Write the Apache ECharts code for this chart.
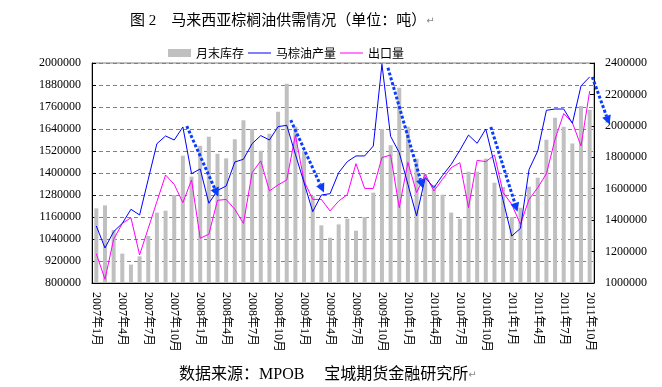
<!DOCTYPE html>
<html><head><meta charset="utf-8">
<script src="https://cdn.jsdelivr.net/npm/echarts@6/dist/echarts.min.js"></script>
<style>html,body{margin:0;padding:0;background:#fff}#c{width:662px;height:387px}</style>
</head><body><div id="c"></div>
<script>
const categories = [
 '2007年1月','2007年2月','2007年3月','2007年4月','2007年5月','2007年6月','2007年7月','2007年8月','2007年9月','2007年10月','2007年11月','2007年12月',
 '2008年1月','2008年2月','2008年3月','2008年4月','2008年5月','2008年6月','2008年7月','2008年8月','2008年9月','2008年10月','2008年11月','2008年12月',
 '2009年1月','2009年2月','2009年3月','2009年4月','2009年5月','2009年6月','2009年7月','2009年8月','2009年9月','2009年10月','2009年11月','2009年12月',
 '2010年1月','2010年2月','2010年3月','2010年4月','2010年5月','2010年6月','2010年7月','2010年8月','2010年9月','2010年10月','2010年11月','2010年12月',
 '2011年1月','2011年2月','2011年3月','2011年4月','2011年5月','2011年6月','2011年7月','2011年8月','2011年9月','2011年10月'
];
// 月末库存 (right axis)
const inventory = [
 1475000,1494000,1337000,1187000,1117000,1170000,1299000,1448000,1460000,1560000,1810000,1677000,
 1874000,1931000,1823000,1793000,1914000,2035000,1980000,1842000,1950000,2090000,2268000,1995000,
 1840000,1555000,1367000,1288000,1373000,1409000,1333000,1420000,1575000,1980000,1876000,2243000,
 1995000,1791000,1694000,1624000,1562000,1448000,1409000,1708000,1708000,1791000,1638000,1611000,
 1420000,1479000,1613000,1670000,1912000,2052000,1995000,1887000,2126000,2103000
];
// 马棕油产量 (left axis)
const production = [
 1111000,991000,1080000,1125000,1202000,1171000,1366000,1560000,1602000,1580000,1651000,1396000,
 1422000,1235000,1305000,1329000,1460000,1475000,1560000,1604000,1580000,1653000,1660000,1502000,
 1347000,1189000,1280000,1287000,1402000,1462000,1493000,1493000,1547000,1993000,1600000,1511000,
 1338000,1166000,1375000,1320000,1387000,1447000,1524000,1607000,1562000,1640000,1446000,1251000,
 1056000,1098000,1420000,1520000,1742000,1749000,1749000,1671000,1875000,1924000
];
// 出口量 (left axis)
const exportsVol = [
 960000,820000,1038000,1125000,1156000,953000,1098000,1244000,1389000,1338000,1238000,1362000,
 1044000,1066000,1251000,1256000,1202000,1125000,1402000,1466000,1302000,1335000,1362000,1607000,
 1356000,1256000,1256000,1193000,1247000,1282000,1451000,1316000,1315000,1484000,1498000,1211000,
 1458000,1293000,1393000,1302000,1366000,1429000,1456000,1211000,1469000,1462000,1498000,1293000,
 1229000,1120000,1256000,1320000,1396000,1584000,1724000,1675000,1547000,1847000
];
const leftAxisRange = [800000, 2000000, 120000];
const rightAxisRange = [1000000, 2400000, 200000];
// trend arrows: [fromCategoryIndex, fromLeftValue, toCategoryIndex, toLeftValue]
const arrows = [
 [10.45, 1656000, 14.1, 1271000],
 [22.46, 1689000, 26.3, 1293000],
 [33.69, 1974000, 37.74, 1316000],
 [45.58, 1651000, 48.66, 1189000],
 [57.3, 1924000, 59.3, 1664000]
];

const FONT = '"Liberation Serif","Noto Sans CJK SC",serif';
const LINE_ICON = 'path://M0,0 L46,0 L46,2 L0,2 Z';
const chart = echarts.init(document.getElementById('c'), null, {renderer:'canvas'});
chart.setOption({
  animation: false,
  backgroundColor: '#fff',
  title: [
    {text: '图 2　马来西亚棕榈油供需情况（单位：吨）{r|↵}', left: 125, top: 9,
     textStyle: {fontFamily: FONT, fontSize: 15, fontWeight: 'normal', color: '#000',
       rich: {r: {fontSize: 10, color: '#888', fontFamily: 'DejaVu Sans'}}}},
    {text: '数据来源：MPOB　 宝城期货金融研究所{r|↵}', left: 174, top: 362,
     textStyle: {fontFamily: FONT, fontSize: 16, fontWeight: 'normal', color: '#000',
       rich: {r: {fontSize: 10, color: '#888', fontFamily: 'DejaVu Sans'}}}}
  ],
  legend: {
    left: 163, top: 42, itemWidth: 23, itemHeight: 8, itemGap: 4,
    textStyle: {fontFamily: '"Noto Sans CJK SC"', fontSize: 12, color: '#000'},
    data: [
      {name: '月末库存', icon: 'rect'},
      {name: '马棕油产量', icon: LINE_ICON},
      {name: '出口量', icon: LINE_ICON}
    ]
  },
  grid: {left: 92, right: 68, top: 63, bottom: 104, show: true, borderColor: '#808080', borderWidth: 1},
  xAxis: {
    type: 'category', data: categories, boundaryGap: true,
    axisLine: {lineStyle: {color: '#000', width: 1}},
    axisTick: {inside: true, length: 4, interval: 2, lineStyle: {color: '#000'}},
    axisLabel: {interval: 2, rotate: -90, margin: 9, fontFamily: FONT, fontSize: 12, color: '#000'}
  },
  yAxis: [
    {type: 'value', min: leftAxisRange[0], max: leftAxisRange[1], interval: leftAxisRange[2],
     axisLine: {show: true, lineStyle: {color: '#000'}},
     axisTick: {show: true, inside: true, length: 4, lineStyle: {color: '#000'}},
     axisLabel: {margin: 11, fontFamily: FONT, fontSize: 12, color: '#000', formatter: v => String(v)},
     splitLine: {show: true, lineStyle: {color: '#808080', type: [4, 3], width: 1}}},
    {type: 'value', min: rightAxisRange[0], max: rightAxisRange[1], interval: rightAxisRange[2], position: 'right',
     axisLine: {show: true, lineStyle: {color: '#000'}},
     axisTick: {show: true, inside: true, length: 4, lineStyle: {color: '#000'}},
     axisLabel: {margin: 11, fontFamily: FONT, fontSize: 12, color: '#000', formatter: v => String(v)},
     splitLine: {show: false}}
  ],
  series: [
    {name: '月末库存', type: 'bar', yAxisIndex: 1, data: inventory, barWidth: 4,
     itemStyle: {color: '#C0C0C0'}, z: 1},
    {name: '马棕油产量', type: 'line', yAxisIndex: 0, data: production, symbol: 'none',
     lineStyle: {color: '#0000FF', width: 1}, itemStyle: {color: '#0000FF'}, z: 3},
    {name: '出口量', type: 'line', yAxisIndex: 0, data: exportsVol, symbol: 'none',
     lineStyle: {color: '#FF00FF', width: 1}, itemStyle: {color: '#FF00FF'}, z: 2}
  ]
});

function drawArrows() {
  const p0 = chart.convertToPixel({xAxisIndex: 0}, categories[0]);
  const p1 = chart.convertToPixel({xAxisIndex: 0}, categories[1]);
  const step = p1 - p0;
  const els = [];
  arrows.forEach(a => {
    const x1 = p0 + step * a[0], y1 = chart.convertToPixel({yAxisIndex: 0}, a[1]);
    const x2 = p0 + step * a[2], y2 = chart.convertToPixel({yAxisIndex: 0}, a[3]);
    const dx = x2 - x1, dy = y2 - y1, len = Math.hypot(dx, dy);
    const ux = dx / len, uy = dy / len;
    const head = 9, hw = 4.5;
    const bx = x2 - ux * head, by = y2 - uy * head;
    els.push({type: 'line', z: 100, shape: {x1: x1, y1: y1, x2: bx, y2: by},
      style: {stroke: '#0a3cff', lineWidth: 3, lineDash: [3, 2]}});
    els.push({type: 'polygon', z: 100,
      shape: {points: [[x2, y2], [bx - uy * hw, by + ux * hw], [bx + uy * hw, by - ux * hw]]},
      style: {fill: '#0a3cff'}});
  });
  chart.setOption({graphic: els});
}
drawArrows();
</script>
</body></html>
